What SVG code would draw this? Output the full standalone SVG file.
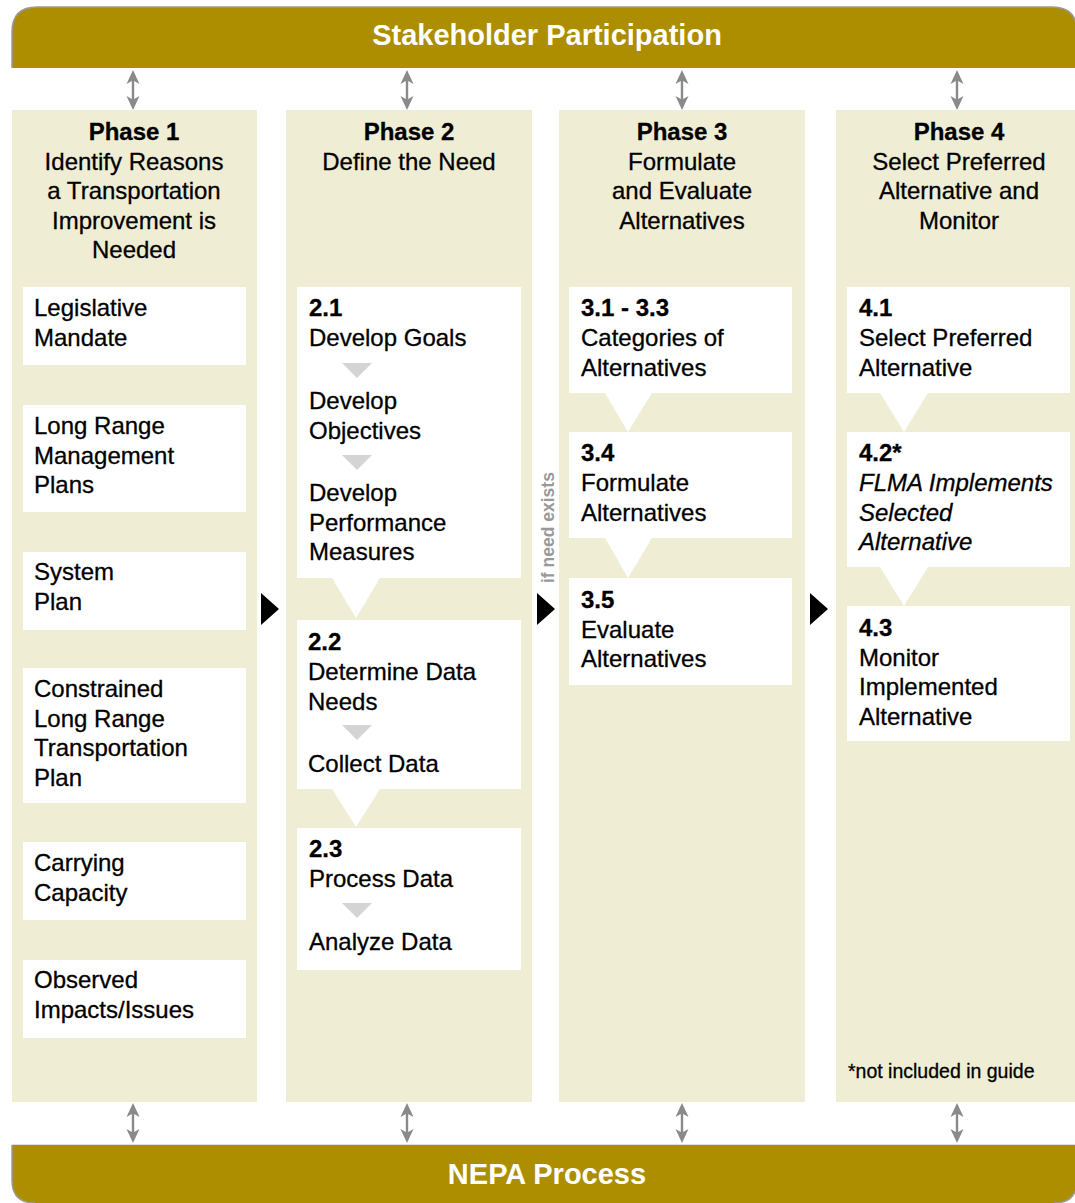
<svg xmlns="http://www.w3.org/2000/svg" width="1075" height="1203" viewBox="0 0 1075 1203">
<style>
text{font-family:"Liberation Sans",Arial,sans-serif;fill:#000;font-size:24px;stroke:#000;stroke-width:0.3}
.b{font-weight:bold}
.c{text-anchor:middle}
.i{font-style:italic}
.bar{fill:#AC8E00}
.barline{fill:none;stroke:#9a9a9a;stroke-width:1.5}
.bt{fill:#fff;stroke:none;font-weight:bold;font-size:29px;text-anchor:middle}
.col{fill:#EFEDD3}
.box{fill:#fff}
.wt{fill:#fff}
.gt{fill:#D4D4D4}
.blk{fill:#000}
.da{fill:#8a8a8a}
.note{font-size:19.5px}
.ine{fill:#999;stroke:none;font-size:17.5px;font-weight:bold}
</style>
<defs>
<path id="dbl" d="M0,0 L6.5,14 L1.2,11 V29 L6.5,26 L0,40 L-6.5,26 L-1.2,29 V11 L-6.5,14 Z"/>
</defs>
<rect width="1075" height="1203" fill="#fff"/>

<g id="stakeholder">
<path class="bar" d="M12,68 V32 Q12,7 37,7 H1052 Q1077,7 1077,32 V68 Z"/>
<path class="barline" d="M12,68 V32 Q12,7 37,7 H1052 Q1077,7 1077,32"/>
<text class="bt" x="547" y="45">Stakeholder Participation</text>
</g>

<g id="nepa">
<path class="bar" d="M12,1145 H1077 V1180 Q1077,1203 1054,1203 H35 Q12,1203 12,1180 Z"/>
<path class="barline" d="M12,1145 V1180 Q12,1203 35,1203 M1077,1180 Q1077,1203 1054,1203"/>
<line x1="12" y1="1144.5" x2="1075" y2="1144.5" stroke="#ddd" stroke-width="1"/>
<text class="bt" x="547" y="1184">NEPA Process</text>
</g>

<g id="phase1">
<rect class="col" x="12" y="110" width="245" height="992"/>
<text class="c" x="134" y="140"><tspan class="b">Phase 1</tspan><tspan x="134" dy="29.5">Identify Reasons</tspan><tspan x="134" dy="29.5">a Transportation</tspan><tspan x="134" dy="29.5">Improvement is</tspan><tspan x="134" dy="29.5">Needed</tspan></text>
</g>
<g id="p1-legislative"><rect class="box" x="23" y="287" width="223" height="78"/><text x="34" y="316">Legislative<tspan x="34" dy="29.5">Mandate</tspan></text></g>
<g id="p1-longrange"><rect class="box" x="23" y="405" width="223" height="107"/><text x="34" y="434">Long Range<tspan x="34" dy="29.5">Management</tspan><tspan x="34" dy="29.5">Plans</tspan></text></g>
<g id="p1-system"><rect class="box" x="23" y="552" width="223" height="78"/><text x="34" y="580">System<tspan x="34" dy="29.5">Plan</tspan></text></g>
<g id="p1-constrained"><rect class="box" x="23" y="668" width="223" height="135"/><text x="34" y="697">Constrained<tspan x="34" dy="29.5">Long Range</tspan><tspan x="34" dy="29.5">Transportation</tspan><tspan x="34" dy="29.5">Plan</tspan></text></g>
<g id="p1-carrying"><rect class="box" x="23" y="842" width="223" height="78"/><text x="34" y="871">Carrying<tspan x="34" dy="29.5">Capacity</tspan></text></g>
<g id="p1-observed"><rect class="box" x="23" y="960" width="223" height="78"/><text x="34" y="988">Observed<tspan x="34" dy="29.5">Impacts/Issues</tspan></text></g>

<g id="phase2">
<rect class="col" x="286" y="110" width="246" height="992"/>
<text class="c" x="409" y="140"><tspan class="b">Phase 2</tspan><tspan x="409" dy="29.5">Define the Need</tspan></text>
</g>
<g id="p2-1"><rect class="box" x="297" y="287" width="224" height="291"/>
<polygon class="gt" points="342,363 372,363 357,378"/>
<polygon class="gt" points="342,455 372,455 357,470"/>
<text x="309" y="316"><tspan class="b">2.1</tspan><tspan x="309" dy="30">Develop Goals</tspan><tspan x="309" y="409">Develop</tspan><tspan x="309" dy="29.5">Objectives</tspan><tspan x="309" y="501">Develop</tspan><tspan x="309" dy="29.5">Performance</tspan><tspan x="309" dy="29.5">Measures</tspan></text></g>
<g id="p2-2"><rect class="box" x="297" y="620" width="224" height="169"/>
<polygon class="gt" points="342,725 372,725 357,740"/>
<text x="308" y="650"><tspan class="b">2.2</tspan><tspan x="308" dy="30">Determine Data</tspan><tspan x="308" dy="29.5">Needs</tspan><tspan x="308" y="772">Collect Data</tspan></text></g>
<g id="p2-3"><rect class="box" x="297" y="828" width="224" height="142"/>
<polygon class="gt" points="342,903 372,903 357,918"/>
<text x="309" y="857"><tspan class="b">2.3</tspan><tspan x="309" dy="30">Process Data</tspan><tspan x="309" y="950">Analyze Data</tspan></text></g>

<g id="phase3">
<rect class="col" x="559" y="110" width="246" height="992"/>
<text class="c" x="682" y="140"><tspan class="b">Phase 3</tspan><tspan x="682" dy="29.5">Formulate</tspan><tspan x="682" dy="29.5">and Evaluate</tspan><tspan x="682" dy="29.5">Alternatives</tspan></text>
</g>
<g id="p3-1"><rect class="box" x="569" y="287" width="223" height="106"/><text x="581" y="316"><tspan class="b">3.1 - 3.3</tspan><tspan x="581" dy="30">Categories of</tspan><tspan x="581" dy="30">Alternatives</tspan></text></g>
<g id="p3-4"><rect class="box" x="569" y="432" width="223" height="106"/><text x="581" y="461"><tspan class="b">3.4</tspan><tspan x="581" dy="30">Formulate</tspan><tspan x="581" dy="30">Alternatives</tspan></text></g>
<g id="p3-5"><rect class="box" x="569" y="578" width="223" height="107"/><text x="581" y="608"><tspan class="b">3.5</tspan><tspan x="581" dy="29.5">Evaluate</tspan><tspan x="581" dy="29.5">Alternatives</tspan></text></g>

<g id="phase4">
<rect class="col" x="836" y="110" width="239" height="992"/>
<text class="c" x="959" y="140"><tspan class="b">Phase 4</tspan><tspan x="959" dy="29.5">Select Preferred</tspan><tspan x="959" dy="29.5">Alternative and</tspan><tspan x="959" dy="29.5">Monitor</tspan></text>
<text class="note" x="848" y="1078">*not included in guide</text>
</g>
<g id="p4-1"><rect class="box" x="847" y="287" width="223" height="106"/><text x="859" y="316"><tspan class="b">4.1</tspan><tspan x="859" dy="30">Select Preferred</tspan><tspan x="859" dy="30">Alternative</tspan></text></g>
<g id="p4-2"><rect class="box" x="847" y="432" width="223" height="135"/><text x="859" y="461"><tspan class="b">4.2*</tspan><tspan class="i" x="859" dy="30">FLMA Implements</tspan><tspan class="i" x="859" dy="29.5">Selected</tspan><tspan class="i" x="859" dy="29.5">Alternative</tspan></text></g>
<g id="p4-3"><rect class="box" x="847" y="606" width="223" height="135"/><text x="859" y="636"><tspan class="b">4.3</tspan><tspan x="859" dy="29.5">Monitor</tspan><tspan x="859" dy="29.5">Implemented</tspan><tspan x="859" dy="29.5">Alternative</tspan></text></g>

<g id="connectors">
<polygon class="wt" points="332,578 380,578 356,618"/>
<polygon class="wt" points="332,789 380,789 356,827"/>
<polygon class="wt" points="605,393 652,393 628,432"/>
<polygon class="wt" points="605,538 652,538 628,578"/>
<polygon class="wt" points="880,393 928,393 904,432"/>
<polygon class="wt" points="880,567 928,567 904,606"/>
<polygon class="blk" points="261,593 279,609 261,625"/>
<polygon class="blk" points="537,593 555,609 537,625"/>
<polygon class="blk" points="810,593 828,609 810,625"/>
<text class="ine" transform="translate(554,583) rotate(-90)">if need exists</text>
<use class="da" href="#dbl" transform="translate(133,70)"/>
<use class="da" href="#dbl" transform="translate(407,70)"/>
<use class="da" href="#dbl" transform="translate(682,70)"/>
<use class="da" href="#dbl" transform="translate(957,70)"/>
<use class="da" href="#dbl" transform="translate(133,1103)"/>
<use class="da" href="#dbl" transform="translate(407,1103)"/>
<use class="da" href="#dbl" transform="translate(682,1103)"/>
<use class="da" href="#dbl" transform="translate(957,1103)"/>
</g>
</svg>
